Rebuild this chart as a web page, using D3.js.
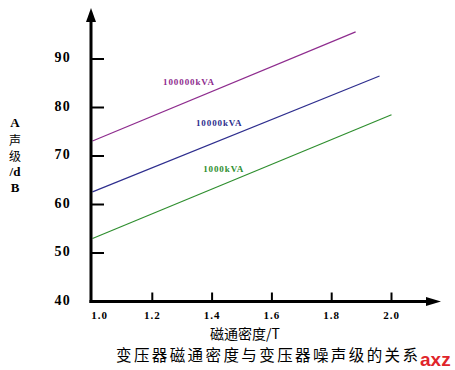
<!DOCTYPE html>
<html><head><meta charset="utf-8">
<script src="https://cdn.jsdelivr.net/npm/d3@7"></script>
<style>body{margin:0;background:#fff}svg{display:block}</style>
</head><body>
<svg id="c" width="455" height="370"></svg>
<script>
const xTicks = [1.0, 1.2, 1.4, 1.6, 1.8, 2.0];
const xTickLabels = ["1.0", "1.2", "1.4", "1.6", "1.8", "2.0"];
const yTicks = [40, 50, 60, 70, 80, 90];
const seriesNames = ["100000kVA", "10000kVA", "1000kVA"];
const seriesX = [[1.0, 1.88], [1.0, 1.96], [1.0, 2.0]];
const seriesY = [[73.1, 95.6], [62.6, 86.5], [53.0, 78.5]];
const seriesColors = ["#8e2c8e", "#2e2e8e", "#2e8e2e"];
const labelPos = [[1.236, 84.6], [1.346, 76.2], [1.37, 66.7]];
const yLabelLines = ["A", "声", "级", "/d", "B"];
const xTitle = "磁通密度/T";
const chartTitle = "变压器磁通密度与变压器噪声级的关系";

const svg = d3.select("#c");
const x = d3.scaleLinear().domain([1.0, 2.0]).range([92.5, 391.5]);
const y = d3.scaleLinear().domain([40, 90]).range([301.5, 59]);
const serif = "'Liberation Serif','DejaVu Serif',serif";
const ax0 = 91, ay0 = 301.5;

// series lines
const line = d3.line().x(d => x(d[0])).y(d => y(d[1]));
seriesNames.forEach((n, i) => {
  const pts = seriesX[i].map((v, j) => [v, seriesY[i][j]]);
  svg.append("path").attr("d", line(pts)).attr("fill", "none")
    .attr("stroke", seriesColors[i]).attr("stroke-width", 1.2);
  svg.append("text").attr("x", x(labelPos[i][0])).attr("y", y(labelPos[i][1]))
    .attr("font-family", serif).attr("font-weight", "bold").attr("font-size", 9)
    .attr("letter-spacing", 0.9).attr("fill", seriesColors[i]).text(n);
});

// axes
svg.append("line").attr("x1", ax0).attr("x2", ax0).attr("y1", ay0 + 1.5).attr("y2", 20)
  .attr("stroke", "#000").attr("stroke-width", 3);
svg.append("path").attr("d", `M${ax0},8 L${ax0 - 5},22 L${ax0 + 5},22 Z`).attr("fill", "#000");
svg.append("line").attr("x1", ax0 - 1.5).attr("x2", 428).attr("y1", ay0).attr("y2", ay0)
  .attr("stroke", "#000").attr("stroke-width", 3);
svg.append("path").attr("d", `M441,${ay0} L426,${ay0 - 4.5} L426,${ay0 + 4.5} Z`).attr("fill", "#000");

// y ticks
yTicks.forEach(t => {
  if (t > 40) {
    svg.append("line").attr("x1", ax0).attr("x2", 104).attr("y1", y(t)).attr("y2", y(t))
      .attr("stroke", "#000").attr("stroke-width", 2);
  }
  svg.append("text").attr("x", 71).attr("y", y(t) + 3).attr("text-anchor", "end")
    .attr("font-family", serif).attr("font-weight", "bold").attr("font-size", 14)
    .attr("letter-spacing", 1.2).text(t);
});

// x ticks
xTicks.forEach((t, i) => {
  if (i > 0) {
    svg.append("line").attr("x1", x(t)).attr("x2", x(t)).attr("y1", ay0).attr("y2", ay0 - 9)
      .attr("stroke", "#000").attr("stroke-width", 2);
  }
  svg.append("text").attr("x", x(t) + (i === 0 ? 7 : 0)).attr("y", ay0 + 17).attr("text-anchor", "middle")
    .attr("font-family", serif).attr("font-weight", "bold").attr("font-size", 11)
    .attr("letter-spacing", 1).text(xTickLabels[i]);
});

// y label stacked
const yl = [127, 145, 161, 176, 192];
yLabelLines.forEach((s, i) => {
  const cjk = /[\u4e00-\u9fff]/.test(s);
  svg.append("text").attr("x", 15).attr("y", yl[i]).attr("text-anchor", "middle")
    .attr("font-family", cjk ? "'Noto Sans CJK SC',sans-serif" : serif)
    .attr("font-weight", cjk ? "normal" : "bold").attr("font-size", cjk ? 12 : 13).text(s);
});

// x title
svg.append("text").attr("x", 245).attr("y", 339).attr("text-anchor", "middle")
  .attr("font-family", "'Noto Sans CJK SC',sans-serif").attr("font-size", 14).text(xTitle);

// chart title
svg.append("text").attr("x", 116).attr("y", 361)
  .attr("font-family", "'Noto Sans CJK SC',sans-serif").attr("font-size", 15.5)
  .attr("textLength", 302).attr("lengthAdjust", "spacing").text(chartTitle);

// watermark
svg.append("text").attr("x", 420).attr("y", 366)
  .attr("font-family", "'Liberation Sans',Arial,sans-serif").attr("font-weight", "bold")
  .attr("font-size", 19).attr("fill", "#e0242a").text("axz");
</script>
</body></html>
